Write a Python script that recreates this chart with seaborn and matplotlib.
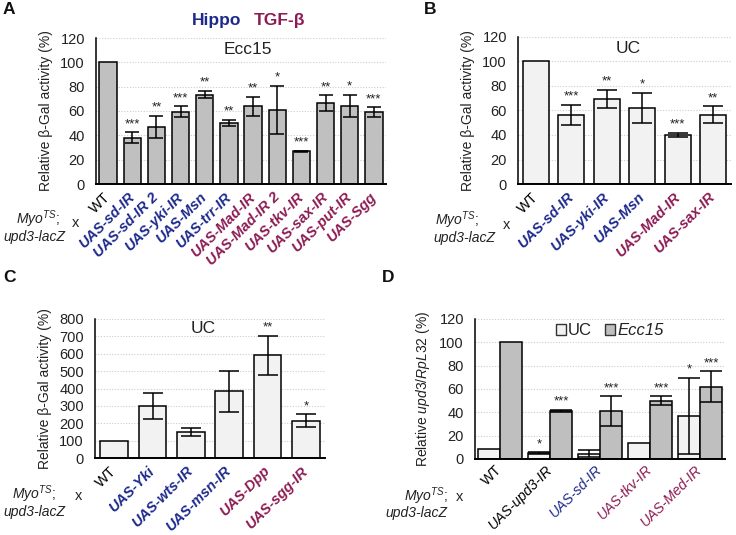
import matplotlib
matplotlib.use("Agg")
import matplotlib.pyplot as plt
import seaborn as sns
import pandas as pd
import numpy as np
from matplotlib.patches import Patch

# ---------------- data ----------------
a_labels = ['WT', 'UAS-sd-IR', 'UAS-sd-IR 2', 'UAS-yki-IR', 'UAS-Msn', 'UAS-trr-IR',
            'UAS-Mad-IR', 'UAS-Mad-IR 2', 'UAS-tkv-IR', 'UAS-sax-IR', 'UAS-put-IR', 'UAS-Sgg']
a_vals = [100, 38, 47, 59.5, 73.5, 50, 64, 61, 27, 66.5, 64, 59]
a_err = [0, 4.6, 9, 4.4, 3, 2.6, 7.7, 19.7, 0.5, 6.5, 9.2, 4]
a_stars = ['', '***', '**', '***', '**', '**', '**', '*', '***', '**', '*', '***']
a_group = ['wt', 'h', 'h', 'h', 'h', 'h', 't', 't', 't', 't', 't', 't']

b_labels = ['WT', 'UAS-sd-IR', 'UAS-yki-IR', 'UAS-Msn', 'UAS-Mad-IR', 'UAS-sax-IR']
b_vals = [100, 56.5, 69.5, 62, 40, 56.5]
b_err = [0, 8.2, 7.3, 12.6, 1.8, 7]
b_stars = ['', '***', '**', '*', '***', '**']
b_group = ['wt', 'h', 'h', 'h', 't', 't']

c_labels = ['WT', 'UAS-Yki', 'UAS-wts-IR', 'UAS-msn-IR', 'UAS-Dpp', 'UAS-sgg-IR']
c_vals = [100, 298, 148, 383, 592, 215]
c_err = [0, 76, 24, 117, 112, 37]
c_stars = ['', '', '', '', '**', '*']
c_group = ['wt', 'h', 'h', 'h', 't', 't']

d_labels = ['WT', 'UAS-upd3-IR', 'UAS-sd-IR', 'UAS-tkv-IR', 'UAS-Med-IR']
d_uc = [8.6, 4.9, 4.6, 13.4, 37]
d_uc_err = [0, 0.8, 3.2, 0, 32.5]
d_uc_stars = ['', '*', '', '', '*']
d_ecc = [100, 41, 41, 50, 62]
d_ecc_err = [0, 1, 12.8, 3.6, 13.3]
d_ecc_stars = ['', '***', '***', '***', '***']
d_group = ['wt', 'wti', 'h', 't', 't']

BLUE = '#1d2a8c'
MAROON = '#8c1c54'
GROUP_COLOR = {'wt': 'black', 'wti': 'black', 'h': BLUE, 't': MAROON}
TXT = '#222222'

# ---------------- style ----------------
sns.set_theme(style='white')
plt.rcParams['font.family'] = ['Liberation Sans', 'DejaVu Sans']
plt.rcParams['mathtext.fontset'] = 'custom'
plt.rcParams['mathtext.rm'] = 'Liberation Sans'
plt.rcParams['mathtext.it'] = 'Liberation Sans:italic'
plt.rcParams['mathtext.bf'] = 'Liberation Sans:bold'

W, H = 736, 535
fig = plt.figure(figsize=(W / 100, H / 100), dpi=100)


def add_ax(left, right, top, bottom):
    return fig.add_axes([left / W, 1 - bottom / H, (right - left) / W, (bottom - top) / H])


def style_axis(ax, ymax, step, ylabel):
    ax.set_ylim(0, ymax)
    ax.set_yticks(np.arange(0, ymax + 1, step))
    ax.yaxis.grid(True, linestyle=(0, (1, 1.5)), color='#cccccc', linewidth=0.8)
    ax.xaxis.grid(False)
    ax.set_axisbelow(True)
    for s in ['top', 'right']:
        ax.spines[s].set_visible(False)
    ax.spines['left'].set_color('black')
    ax.spines['bottom'].set_color('black')
    ax.spines['left'].set_linewidth(1.1)
    ax.spines['bottom'].set_linewidth(1.4)
    ax.tick_params(axis='y', labelsize=10.5, length=0, pad=8, colors=TXT)
    ax.tick_params(axis='x', length=0, pad=8)
    ax.set_ylabel(ylabel, fontsize=10, color=TXT, labelpad=5)
    ax.set_xlabel('')


def style_xticks(ax, labels, groups, bold=True, size=10.5):
    ax.set_xticks(range(len(labels)))
    ax.set_xticklabels(labels, rotation=45, ha='right', rotation_mode='anchor',
                       va='center', fontsize=size)
    for t, g in zip(ax.get_xticklabels(), groups):
        t.set_color(GROUP_COLOR[g])
        if g == 'wt':
            t.set_fontweight('normal')
            t.set_fontstyle('normal')
        else:
            t.set_fontweight('bold' if bold else 'normal')
            t.set_fontstyle('italic')


def draw_err_stars(ax, bars, vals, errs, stars, capsize):
    for bar, v, e, s in zip(bars, vals, errs, stars):
        xc = bar.get_x() + bar.get_width() / 2
        if e > 0:
            ax.errorbar(xc, v, yerr=e, fmt='none', ecolor='black', elinewidth=1.1,
                        capsize=capsize, capthick=1.1)
        if s:
            ax.annotate(s, (xc, v + e), xytext=(0, 1.5), textcoords='offset points',
                        ha='center', va='bottom', fontsize=9.5, color=TXT)


def simple_panel(ax, labels, vals, errs, stars, color, capsize):
    df = pd.DataFrame({'g': labels, 'v': vals})
    sns.barplot(data=df, x='g', y='v', order=labels, color=color, edgecolor='black',
                linewidth=1.1, width=0.72, errorbar=None, ax=ax, saturation=1)
    draw_err_stars(ax, ax.containers[0], vals, errs, stars, capsize)


def genotype_label(x_myo, y_myo, x_upd, y_upd, x_x, y_x):
    fig.text(x_myo / W, 1 - y_myo / H, r'$Myo^{TS}$;', ha='center', va='center',
             fontsize=10, color=TXT)
    fig.text(x_upd / W, 1 - y_upd / H, 'upd3-lacZ', ha='center', va='center',
             fontsize=10, style='italic', color=TXT)
    fig.text(x_x / W, 1 - y_x / H, 'x', ha='center', va='center', fontsize=10.5,
             color=TXT)


ylab_gal = 'Relative β-Gal activity (%)'

# ---------------- Panel A ----------------
axA = add_ax(96, 386, 38, 184)
simple_panel(axA, a_labels, a_vals, a_err, a_stars, '#c0c0c0', 5)
style_axis(axA, 120, 20, ylab_gal)
style_xticks(axA, a_labels, a_group)
axA.set_xlim(-0.5, len(a_labels) - 0.5)
axA.text(0.524, 0.92, 'Ecc15', transform=axA.transAxes, ha='center', va='center',
         fontsize=12.5, color=TXT)
genotype_label(38, 219, 34, 237, 76, 223)

# ---------------- Panel B ----------------
axB = add_ax(518, 731, 37, 184)
simple_panel(axB, b_labels, b_vals, b_err, b_stars, '#f2f2f2', 7)
style_axis(axB, 120, 20, ylab_gal)
style_xticks(axB, b_labels, b_group)
axB.set_xlim(-0.5, len(b_labels) - 0.5)
axB.text(0.516, 0.92, 'UC', transform=axB.transAxes, ha='center', va='center',
         fontsize=12.5, color=TXT)
genotype_label(457, 220, 464, 238, 507, 225)

# ---------------- Panel C ----------------
axC = add_ax(95, 325, 319, 458)
simple_panel(axC, c_labels, c_vals, c_err, c_stars, '#f2f2f2', 7)
style_axis(axC, 800, 100, ylab_gal)
style_xticks(axC, c_labels, c_group)
axC.set_xlim(-0.5, len(c_labels) - 0.5)
axC.text(0.47, 0.935, 'UC', transform=axC.transAxes, ha='center', va='center',
         fontsize=12.5, color=TXT)
genotype_label(34, 494, 34, 512, 79, 496)

# ---------------- Panel D ----------------
axD = add_ax(475, 725, 319, 459)
cond_uc, cond_ecc = 'UC', 'Ecc15'
dfD = pd.DataFrame({
    'g': d_labels * 2,
    'cond': [cond_uc] * len(d_labels) + [cond_ecc] * len(d_labels),
    'v': d_uc + d_ecc,
})
sns.barplot(data=dfD, x='g', y='v', hue='cond', order=d_labels, hue_order=[cond_uc, cond_ecc],
            palette={cond_uc: '#f2f2f2', cond_ecc: '#bfbfbf'}, edgecolor='black',
            linewidth=1.1, width=0.88, errorbar=None, ax=axD, saturation=1, legend=False)
for cont, vals, errs, stars in zip(axD.containers, [d_uc, d_ecc], [d_uc_err, d_ecc_err],
                                   [d_uc_stars, d_ecc_stars]):
    draw_err_stars(axD, cont, vals, errs, stars, 8)
style_axis(axD, 120, 20, r'Relative $upd3/RpL32$ (%)')
axD.tick_params(axis='x', pad=6)
axD.set_xlim(-0.5, len(d_labels) - 0.5)
style_xticks(axD, d_labels, d_group, bold=False, size=10.2)
handles = [Patch(facecolor='#f2f2f2', edgecolor='#333333', linewidth=1.0, label='UC'),
           Patch(facecolor='#bfbfbf', edgecolor='#333333', linewidth=1.0, label='Ecc15')]
leg = axD.legend(handles=handles, loc='center', bbox_to_anchor=(0.54, 0.915), ncol=2,
                 frameon=False, fontsize=12, handlelength=0.55, handleheight=0.55,
                 handletextpad=0.15, columnspacing=0.8)
for t in leg.get_texts():
    t.set_color(TXT)
leg.get_texts()[1].set_fontstyle('italic')
genotype_label(426, 496, 416, 513, 460, 497)

# ---------------- header texts ----------------
fig.text(217 / W, 1 - 21 / H, 'Hippo', color=BLUE, fontsize=12.5, fontweight='bold',
         ha='center', va='center')
fig.text(280 / W, 1 - 21 / H, 'TGF-β', color=MAROON, fontsize=12.5, fontweight='bold',
         ha='center', va='center')
for letter, x, y in [('A', 9, 9), ('B', 430, 9), ('C', 9, 278), ('D', 388, 278)]:
    fig.text(x / W, 1 - y / H, letter, fontsize=12.5, fontweight='bold', ha='center',
             va='center', color='#111111')

fig.savefig('out.png', dpi=100)
